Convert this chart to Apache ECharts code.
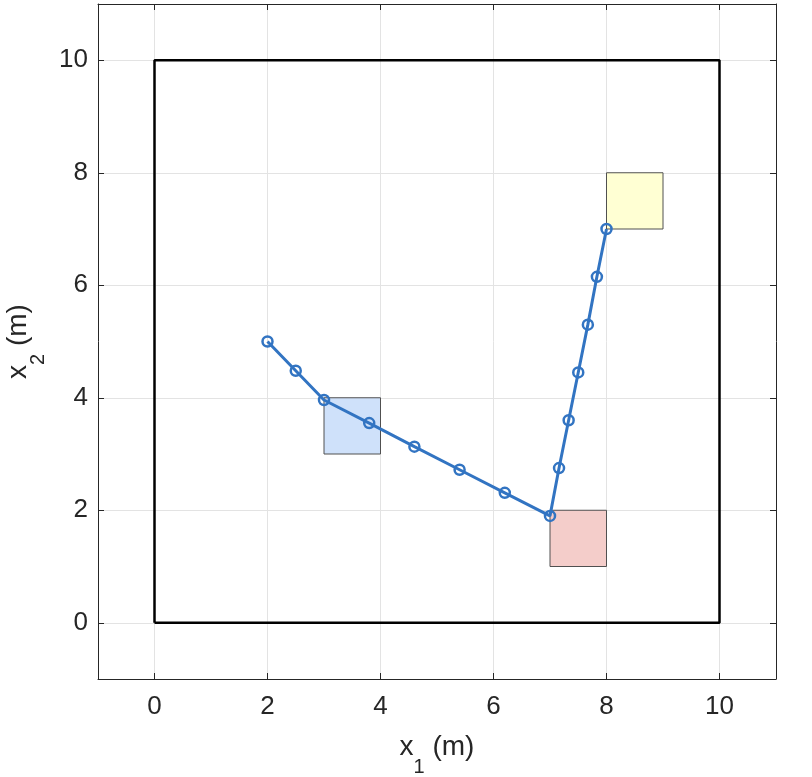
<!DOCTYPE html>
<html>
<head>
<meta charset="utf-8">
<script src="https://cdn.jsdelivr.net/npm/echarts@6/dist/echarts.min.js"></script>
<style>
  html, body { margin: 0; padding: 0; background: #fff; }
  #chart { width: 812px; height: 777px; }
</style>
</head>
<body>
<div id="chart"></div>
<script>
// 轨迹点
const pathX = [2, 2.5, 3, 3.8, 4.6, 5.4, 6.2, 7, 7.16, 7.33, 7.5, 7.67, 7.83, 8]
const pathY = [5, 4.48, 3.96, 3.55, 3.13, 2.72, 2.31, 1.9, 2.75, 3.6, 4.45, 5.3, 6.15, 7]

// 边界 [0,10]x[0,10]
const boundX = [0, 10, 10, 0, 0]
const boundY = [0, 0, 10, 10, 0]

// 方块 [x0, y0, x1, y1]
const boxes = [
  [3, 3, 4, 4],
  [7, 1, 8, 2],
  [8, 7, 9, 8]
]
const boxColors = ['#cfe1fa', '#f4cdca', '#ffffd3']

const ticks = [0, 2, 4, 6, 8, 10]

const font = 'Liberation Sans, Arial, sans-serif'
const textColor = '#262626'

const chart = echarts.init(document.getElementById('chart'))

const baseAxis = (extra) => Object.assign({
  type: 'value',
  min: -1,
  max: 11,
  axisLine: { show: true, onZero: false, lineStyle: { color: '#262626', width: 1 } },
  axisTick: {
    show: true,
    inside: true,
    length: 6,
    lineStyle: { color: '#262626' },
    customValues: ticks
  },
  axisLabel: {
    show: true,
    color: textColor,
    fontFamily: font,
    fontSize: 26,
    customValues: ticks
  },
  splitLine: { show: true, lineStyle: { color: '#e3e3e3', width: 1 } }
}, extra)

const nameRich = {
  a: { fontSize: 28, fontFamily: font, color: textColor },
  sub: { fontSize: 20, fontFamily: font, color: textColor, verticalAlign: 'bottom', padding: [0, 0, -16, 0] }
}

const option = {
  backgroundColor: '#fff',
  animation: false,
  grid: { left: 98, right: 36, top: 4, bottom: 98, containLabel: false, outerBoundsMode: 'none' },
  xAxis: [
    baseAxis({
      position: 'bottom',
      name: '{a|x}{sub|1}{a| (m)}',
      nameLocation: 'middle',
      nameGap: 54,
      nameTextStyle: { rich: nameRich },
      axisLabel: { show: true, color: textColor, fontFamily: font, fontSize: 26, margin: 15, customValues: ticks }
    }),
    baseAxis({ position: 'top', axisLabel: { show: false }, splitLine: { show: false } })
  ],
  yAxis: [
    baseAxis({
      position: 'left',
      name: '{a|x}{sub|2}{a| (m)}',
      nameLocation: 'middle',
      nameGap: 56,
      nameRotate: 90,
      nameTextStyle: { rich: nameRich },
      axisLabel: { show: true, color: textColor, fontFamily: font, fontSize: 26, margin: 10, customValues: ticks }
    }),
    baseAxis({ position: 'right', axisLabel: { show: false }, splitLine: { show: false } })
  ],
  series: [
    {
      type: 'custom',
      xAxisIndex: 0,
      yAxisIndex: 0,
      z: 2,
      data: boxes,
      renderItem: (params, api) => {
        const p0 = api.coord([api.value(0), api.value(1)])
        const p1 = api.coord([api.value(2), api.value(3)])
        return {
          type: 'rect',
          shape: {
            x: Math.min(p0[0], p1[0]),
            y: Math.min(p0[1], p1[1]),
            width: Math.abs(p1[0] - p0[0]),
            height: Math.abs(p1[1] - p0[1])
          },
          style: {
            fill: boxColors[params.dataIndex],
            stroke: '#505050',
            lineWidth: 1
          }
        }
      },
      encode: { x: [0, 2], y: [1, 3] }
    },
    {
      type: 'line',
      xAxisIndex: 0,
      yAxisIndex: 0,
      z: 3,
      data: boundX.map((x, i) => [x, boundY[i]]),
      symbol: 'none',
      lineStyle: { color: '#000', width: 2.5 }
    },
    {
      type: 'line',
      xAxisIndex: 0,
      yAxisIndex: 0,
      z: 4,
      data: pathX.map((x, i) => [x, pathY[i]]),
      symbol: 'circle',
      symbolSize: 10,
      lineStyle: { color: '#3274c2', width: 3 },
      itemStyle: { color: 'rgba(0,0,0,0)', borderWidth: 2.5, borderColor: '#3274c2' }
    }
  ]
}

chart.setOption(option)
</script>
</body>
</html>
